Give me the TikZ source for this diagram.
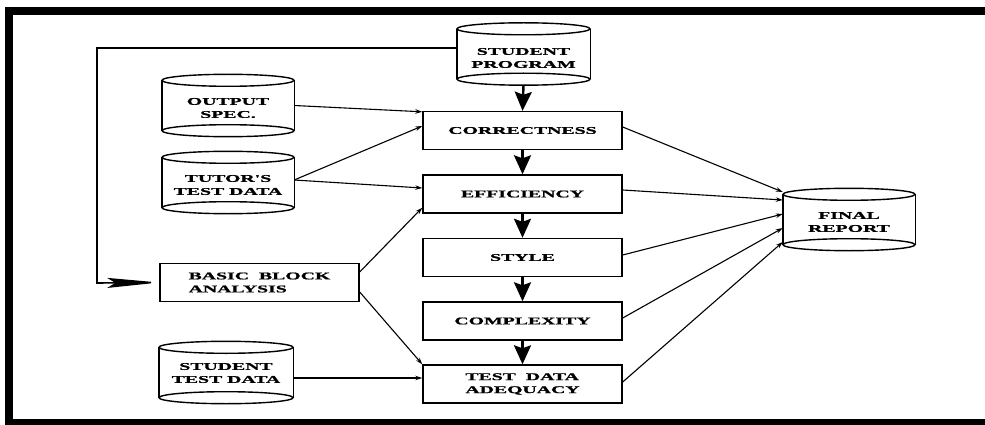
\documentclass[tikz,border=0pt]{standalone}
\usepackage{fontspec}
\newfontface\labfont[FakeStretch=1.92, FakeBold=1.2]{Liberation Serif Bold}
\usetikzlibrary{arrows.meta}
\newcommand\mycyl[6]{%
  \node[cylbox=#4] (#1) at (#2,#3) {};
  \node[lab] (#1t) at ([yshift=-#6pt]#1.center) {#5};
  \pgfmathsetmacro\myrx{#4/2}
  \draw[cylline] ([yshift=-6pt]#1.north) ellipse [x radius=\myrx pt, y radius=6pt];
  \draw[cylline] ([yshift=6pt]#1.south) ellipse [x radius=\myrx pt, y radius=6pt];
  \draw[cylline] ([yshift=-6pt]#1.north west) -- ([yshift=6pt]#1.south west);
  \draw[cylline] ([yshift=-6pt]#1.north east) -- ([yshift=6pt]#1.south east);
}
\begin{document}
\begin{tikzpicture}[x=1pt,y=-1pt,
  lab/.style={font=\labfont\fontsize{10.3}{13}\selectfont, align=center, inner sep=0pt},
  procbox/.style={draw, line width=1.4pt, minimum width=199pt, minimum height=38pt, inner sep=0pt, lab},
  cylbox/.style={minimum width=#1, minimum height=62pt, inner sep=0pt},
  cylline/.style={line width=1.4pt},
  thinarrow/.style={line width=1.1pt, -{Stealth[length=7pt,width=4.5pt]}},
  bigarrow/.style={line width=2.4pt, -{Stealth[length=19pt,width=17pt,inset=3pt]}}]
\useasboundingbox (0,0) rectangle (985,425);
% frame
\fill (5,7) rectangle (985,15);
\fill (5,7) rectangle (13,425);
\fill (5,419) rectangle (985,425);

% cylinders
\mycyl{sp}{523.5}{54}{133}{STUDENT\\PROGRAM}{4}
\mycyl{os}{228}{105.5}{132}{OUTPUT\\SPEC.}{2.5}
\mycyl{td}{228}{182.5}{132}{TUTOR'S\\TEST DATA}{2.5}
\mycyl{st}{226}{372.5}{134}{STUDENT\\TEST DATA}{0.5}
\mycyl{fr}{849}{219.5}{132}{FINAL\\REPORT}{2.5}

% process boxes
\node[procbox, align=left] (bba) at (259.5,282.5) {BASIC\ \ BLOCK\\ANALYSIS};
\node[procbox] (cor) at (522.5,130.5) {CORRECTNESS};
\node[procbox] (eff) at (522.5,194) {EFFICIENCY};
\node[procbox] (sty) at (522.5,257.5) {STYLE};
\node[procbox] (com) at (522.5,321) {COMPLEXITY};
\node[procbox, align=left] (tda) at (522.5,384) {TEST\ \ DATA\\ADEQUACY};

% main chain
\draw[bigarrow] (sp.south) -- (cor.north);
\draw[bigarrow] (cor.south) -- (eff.north);
\draw[bigarrow] (eff.south) -- (sty.north);
\draw[bigarrow] (sty.south) -- (com.north);
\draw[bigarrow] (com.south) -- (tda.north);

% feedback to basic block analysis
\coordinate (fbtop) at (97,48);
\coordinate (fbbot) at (97,283);
\draw[line width=1.1pt] ([yshift=6pt]sp.west) -- (fbtop);
\draw[line width=2.6pt, line cap=rect] (fbtop) -- (fbbot);
\draw[line width=1.6pt, -{Stealth[length=52pt,width=10pt,inset=8pt]}] (fbbot) -- (bba.west);

% inputs
\draw[thinarrow] (os.east) -- ([yshift=-1pt]cor.north west);
\draw[thinarrow] ([yshift=2.5pt]td.east) -- ([yshift=4.5pt]cor.west);
\draw[thinarrow] ([yshift=2.5pt]td.east) -- ([yshift=6pt]eff.west);
\draw[thinarrow] ([yshift=10.5pt]bba.east) -- ([yshift=6pt]eff.south west);
\draw[thinarrow] ([yshift=-9.5pt]bba.east) -- (tda.north west);
\draw[thinarrow] ([yshift=-5.5pt]st.east) -- ([yshift=6pt]tda.west);

% outputs to final report
\draw[thinarrow] ([yshift=3.5pt]cor.east) -- ([yshift=27.5pt]fr.west);
\draw[thinarrow] ([yshift=4pt]eff.east) -- ([yshift=19.5pt]fr.west);
\draw[thinarrow] ([yshift=2.5pt]sty.east) -- ([yshift=5.5pt]fr.west);
\draw[thinarrow] ([yshift=3pt]com.east) -- ([yshift=-8.5pt]fr.west);
\draw[thinarrow] ([yshift=2pt]tda.east) -- ([yshift=-22.5pt]fr.west);
\end{tikzpicture}
\end{document}
